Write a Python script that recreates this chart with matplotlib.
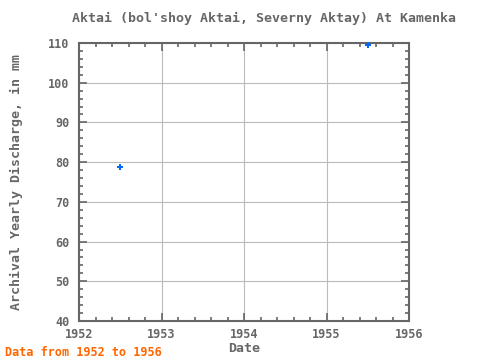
import matplotlib
matplotlib.use("Agg")
import matplotlib.pyplot as plt
from matplotlib.ticker import MultipleLocator

years = [1952.5, 1955.5]
discharge = [78.8, 109.6]

title = "Aktai (bol'shoy Aktai, Severny Aktay) At Kamenka"
footer = "Data from 1952 to 1956"

plt.rcParams['font.family'] = ['DejaVu Sans Mono']
grey = '#666666'

fig = plt.figure(figsize=(4.8, 3.6), dpi=100)
ax = fig.add_axes([0.1646, 0.1083, 0.6875, 0.7723])

ax.plot(years, discharge, linestyle='none', marker='P', markersize=4,
        color='#0066ff', markeredgewidth=0, clip_on=False, zorder=5)

ax.set_xlim(1952, 1956)
ax.set_ylim(40, 110)
ax.xaxis.set_major_locator(MultipleLocator(1))
ax.xaxis.set_minor_locator(MultipleLocator(0.2))
ax.yaxis.set_major_locator(MultipleLocator(10))
ax.yaxis.set_minor_locator(MultipleLocator(2))
ax.xaxis.set_major_formatter(plt.FuncFormatter(lambda v, p: "%d" % v))

ax.grid(True, which='major', color='#bbbbbb', linewidth=0.8)
ax.set_axisbelow(True)
for s in ax.spines.values():
    s.set_color(grey)
    s.set_linewidth(1.5)
ax.tick_params(which='both', direction='in', top=True, right=True, color=grey,
               labelcolor=grey, labelsize=8.5, width=1.2)
ax.tick_params(which='major', length=6)
ax.tick_params(which='minor', length=3)
ax.tick_params(axis='y', which='major', pad=7)
ax.tick_params(axis='x', which='major', pad=5)
for lab in ax.get_xticklabels() + ax.get_yticklabels():
    lab.set_fontweight('bold')

ax.set_xlabel('Date', color=grey, fontsize=9.5, fontweight='bold', labelpad=1)
ax.set_ylabel('Archival Yearly Discharge, in mm', color=grey, fontsize=9.5,
              fontweight='bold', labelpad=18)

fig.text(0.55, 0.95, title, ha='center', va='center', color=grey,
         fontsize=9.5, fontweight='bold')
fig.text(0.01, 0.022, footer, ha='left', va='center', color='#ff6600',
         fontsize=8.5, fontweight='bold')

fig.savefig('out.png', dpi=100)
